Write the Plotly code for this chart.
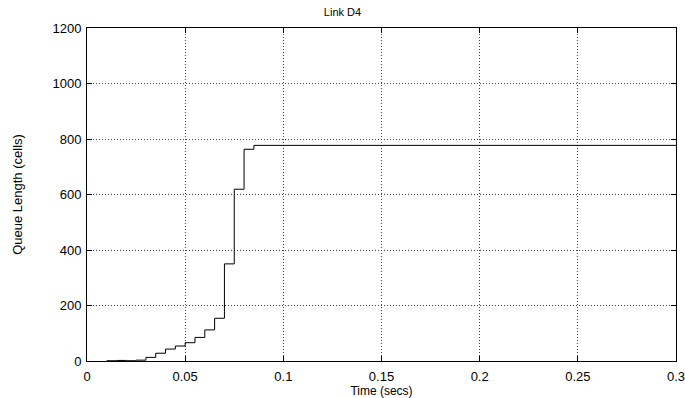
import plotly.graph_objects as go

time_s = [0.010, 0.015, 0.020, 0.025, 0.030, 0.035, 0.040, 0.045, 0.050, 0.055,
          0.060, 0.065, 0.070, 0.075, 0.080, 0.085, 0.300]
queue_cells = [1, 2, 1, 3, 13, 28, 43, 54, 66, 85,
               112, 154, 350, 619, 763, 777, 777]

x_ticks = [0, 0.05, 0.1, 0.15, 0.2, 0.25, 0.3]
x_tick_labels = ["0", "0.05", "0.1", "0.15", "0.2", "0.25", "0.3"]
y_ticks = [0, 200, 400, 600, 800, 1000, 1200]

fig = go.Figure(go.Scatter(
    x=time_s, y=queue_cells, mode="lines",
    line=dict(color="black", width=1, shape="hv"),
    showlegend=False,
))

fam = "Liberation Sans, Arial, sans-serif"
tick_font = dict(family=fam, size=13, color="black")
axis_common = dict(
    showline=True, linecolor="black", linewidth=1, mirror="ticks",
    ticks="inside", ticklen=5, tickcolor="black",
    showgrid=True, gridcolor="#444444", griddash="1px,2px", gridwidth=1,
    zeroline=False, tickfont=tick_font, automargin=False,
    ticklabeloverflow="allow",
)

fig.update_layout(
    width=685, height=398,
    margin=dict(l=87, r=9, t=28, b=37),
    paper_bgcolor="white", plot_bgcolor="white",
    font=tick_font,
    title=dict(text="Link D4", x=0.5, xanchor="center", y=0.97, yanchor="middle",
               font=dict(size=11, family=fam, color="black")),
    xaxis=dict(range=[0, 0.3], tickvals=x_ticks, ticktext=x_tick_labels,
               ticklabelstandoff=3,
               title=dict(text="Time (secs)", standoff=0,
                          font=dict(family=fam, size=12, color="black")), **axis_common),
    yaxis=dict(range=[0, 1200], tickvals=y_ticks, ticklabelstandoff=2,
               title=dict(text="Queue Length (cells)", standoff=26,
                          font=dict(family=fam, size=13, color="black")), **axis_common),
)

fig.write_html("out.html")
